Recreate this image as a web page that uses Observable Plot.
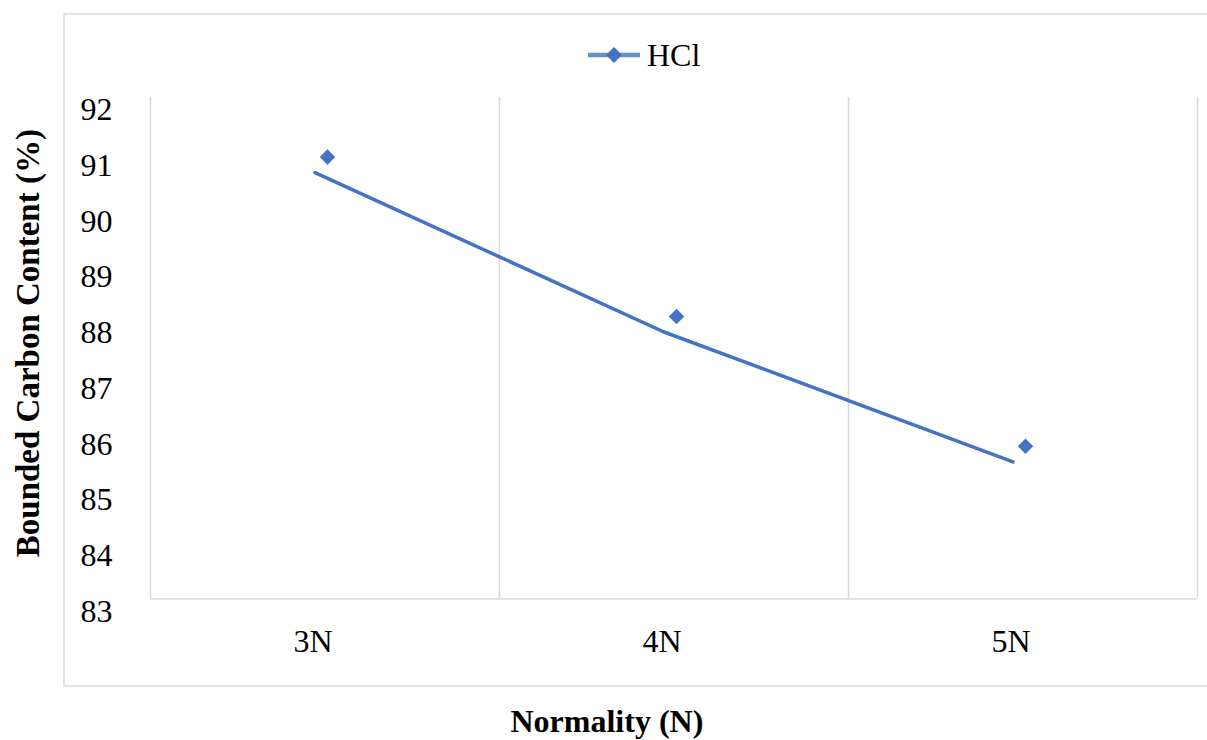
<!DOCTYPE html>
<html>
<head>
<meta charset="utf-8">
<script src="https://cdn.jsdelivr.net/npm/d3@7"></script>
<script src="https://cdn.jsdelivr.net/npm/@observablehq/plot@0.6"></script>
<style>
  html, body { margin: 0; padding: 0; background: #fff; }
  #wrap { position: relative; width: 1207px; height: 740px; overflow: hidden; font-family: "Liberation Serif", "Times New Roman", serif; }
  #chart { position: absolute; left: 0; top: 0; }
  .title { position: absolute; font-weight: bold; font-size: 32px; color: #000; white-space: nowrap; line-height: 1.1; }
  #ytitle { font-size: 33px; }
  #legend { position: absolute; left: 588px; top: 38px; height: 34px; display: flex; align-items: center; font-size: 32px; color: #000; }
</style>
</head>
<body>
<div id="wrap">
  <div id="chart"></div>
  <div id="legend"></div>
  <div class="title" id="xtitle">Normality (N)</div>
  <div class="title" id="ytitle">Bounded Carbon Content (%)</div>
</div>
<script>
// ---- data ----
const categories = ["3N", "4N", "5N"];
const hclValues = [90.93, 88.07, 85.74];
const yTicks = [83, 84, 85, 86, 87, 88, 89, 90, 91, 92];
const seriesName = "HCl";

const data = categories.map((c, i) => ({cat: c, idx: i, value: hclValues[i]}));
const boundaries = categories.map((_, i) => i - 0.5).concat([categories.length - 0.5]);

const blue = "#4472C4";
const grid = "#d9d9d9";

const chart = Plot.plot({
  width: 1207,
  height: 740,
  marginLeft: 150,
  marginRight: 10,
  marginTop: 97,
  marginBottom: 141.5,
  style: {fontFamily: "Liberation Serif, Times New Roman, serif", fontSize: "32px", color: "#000", background: "transparent", overflow: "visible"},
  x: {domain: [-0.5, categories.length - 0.5], axis: null},
  y: {domain: [yTicks[0], yTicks[yTicks.length - 1]], axis: null},
  marks: [
    Plot.frame({insetLeft: -86.5, insetTop: -83.5, insetBottom: -87, insetRight: -14, stroke: grid, strokeWidth: 1.5}),
    Plot.ruleX(boundaries, {stroke: grid, strokeWidth: 1.5}),
    Plot.ruleY([yTicks[0]], {stroke: grid, strokeWidth: 1.5}),
    Plot.text(yTicks, {y: d => d, frameAnchor: "left", textAnchor: "end", dx: -38, dy: 12.5, fontSize: 32, fill: "#000"}),
    Plot.text(data, {x: "idx", text: "cat", frameAnchor: "bottom", dy: 53, dx: -12, fontSize: 32, fill: "#000"}),
    Plot.line(data, {x: "idx", y: "value", stroke: blue, strokeWidth: 3.5, dx: -10, dy: 15.5}),
    Plot.dot(data, {x: "idx", y: "value", symbol: "diamond2", r: 7, fill: blue, stroke: "none", dx: 2.5})
  ]
});
document.getElementById("chart").appendChild(chart);

// legend
const legend = document.getElementById("legend");
legend.innerHTML = `<svg width="56" height="20" style="margin-right:3px"><line x1="0" x2="52" y1="10" y2="10" stroke="${blue}" stroke-width="4.5" opacity="0.8"/><path d="M26,2 L34,10 L26,18 L18,10 Z" fill="${blue}"/></svg><span>${seriesName}</span>`;

// axis titles
const xt = document.getElementById("xtitle");
xt.style.left = (607 - xt.offsetWidth / 2) + "px";
xt.style.top = (721 - xt.offsetHeight / 2) + "px";
const yt = document.getElementById("ytitle");
yt.style.left = (28 - yt.offsetWidth / 2) + "px";
yt.style.top = (343 - yt.offsetHeight / 2) + "px";
yt.style.transform = "rotate(-90deg)";
</script>
</body>
</html>
